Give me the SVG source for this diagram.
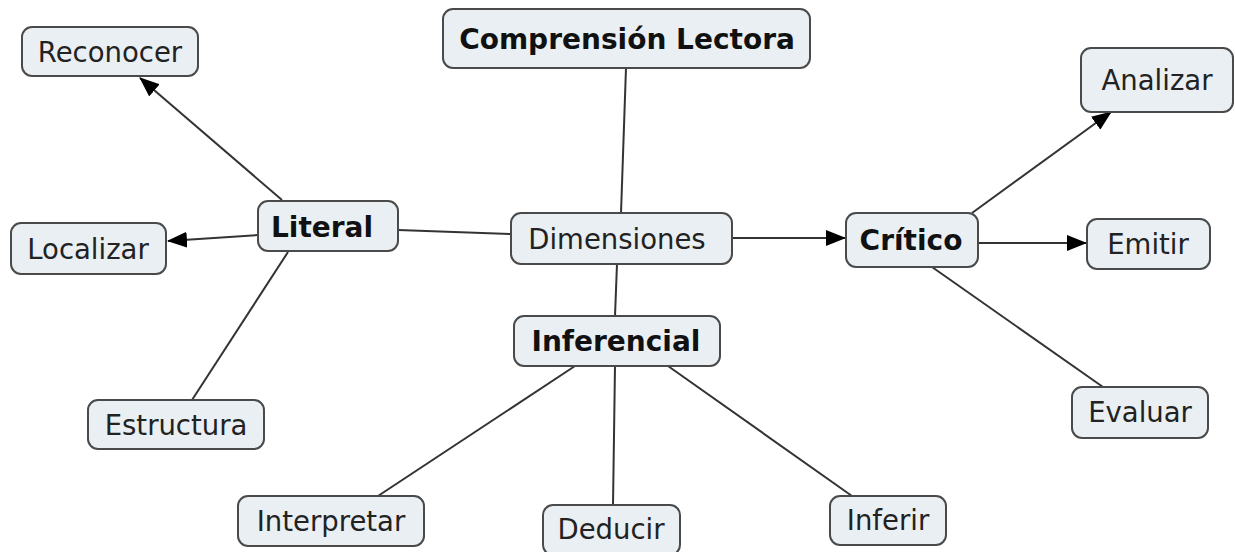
<svg xmlns="http://www.w3.org/2000/svg" width="1235" height="552" viewBox="0 0 1235 552">
<style>
.box{fill:#e9eff3;stroke:#4a4a4a;stroke-width:2}
.t{font-family:"DejaVu Sans",Verdana,sans-serif;font-size:27.5px;fill:#222;text-anchor:middle;dominant-baseline:central}
.b{font-weight:bold;fill:#111;font-size:28px}
.c{stroke:#333;stroke-width:2;fill:none}
</style>
<defs>
<marker id="a" viewBox="0 0 20 16" refX="19" refY="8" markerWidth="20" markerHeight="16" orient="auto" markerUnits="userSpaceOnUse">
<path d="M0,0 L20,8 L0,16 Z" fill="#000"/>
</marker>
</defs>
<g id="connectors">
<line class="c" x1="626" y1="68" x2="621" y2="213"/>
<line class="c" x1="617" y1="264" x2="615" y2="316"/>
<line class="c" x1="398" y1="230" x2="511" y2="234"/>
<line class="c" x1="732" y1="238" x2="845" y2="238" marker-end="url(#a)"/>
<line class="c" x1="282" y1="200" x2="140" y2="78" marker-end="url(#a)"/>
<line class="c" x1="258" y1="235" x2="168" y2="241" marker-end="url(#a)"/>
<line class="c" x1="288" y1="252" x2="192" y2="400"/>
<line class="c" x1="972" y1="213" x2="1111" y2="112" marker-end="url(#a)"/>
<line class="c" x1="978" y1="243" x2="1086" y2="243" marker-end="url(#a)"/>
<line class="c" x1="932" y1="267" x2="1103" y2="387"/>
<line class="c" x1="575" y1="366" x2="378" y2="496"/>
<line class="c" x1="615" y1="366" x2="613" y2="505"/>
<line class="c" x1="668" y1="366" x2="852" y2="496"/>
</g>
<g id="n-reconocer"><rect class="box" x="22" y="27" width="176" height="49" rx="10"/><text class="t" x="110" y="52">Reconocer</text></g>
<g id="n-comprension"><rect class="box" x="443" y="9" width="367" height="59" rx="10"/><text class="t b" x="627" y="39">Comprensión Lectora</text></g>
<g id="n-analizar"><rect class="box" x="1081" y="48" width="152" height="64" rx="10"/><text class="t" x="1157" y="80">Analizar</text></g>
<g id="n-literal"><rect class="box" x="258" y="201" width="140" height="50" rx="10"/><text class="t b" x="322" y="227">Literal</text></g>
<g id="n-localizar"><rect class="box" x="11" y="223" width="155" height="51" rx="10"/><text class="t" x="88" y="249">Localizar</text></g>
<g id="n-dimensiones"><rect class="box" x="511" y="213" width="221" height="51" rx="10"/><text class="t" x="617" y="239">Dimensiones</text></g>
<g id="n-critico"><rect class="box" x="846" y="213" width="132" height="54" rx="10"/><text class="t b" x="911" y="240">Crítico</text></g>
<g id="n-emitir"><rect class="box" x="1087" y="219" width="123" height="50" rx="10"/><text class="t" x="1148" y="244">Emitir</text></g>
<g id="n-inferencial"><rect class="box" x="514" y="316" width="206" height="50" rx="10"/><text class="t b" x="616" y="341">Inferencial</text></g>
<g id="n-estructura"><rect class="box" x="88" y="400" width="176" height="49" rx="10"/><text class="t" x="176" y="425">Estructura</text></g>
<g id="n-evaluar"><rect class="box" x="1072" y="387" width="136" height="51" rx="10"/><text class="t" x="1140" y="412">Evaluar</text></g>
<g id="n-interpretar"><rect class="box" x="238" y="496" width="186" height="50" rx="10"/><text class="t" x="331" y="521">Interpretar</text></g>
<g id="n-deducir"><rect class="box" x="543" y="505" width="137" height="50" rx="10"/><text class="t" x="611" y="529">Deducir</text></g>
<g id="n-inferir"><rect class="box" x="830" y="496" width="116" height="49" rx="10"/><text class="t" x="888" y="520">Inferir</text></g>
</svg>
